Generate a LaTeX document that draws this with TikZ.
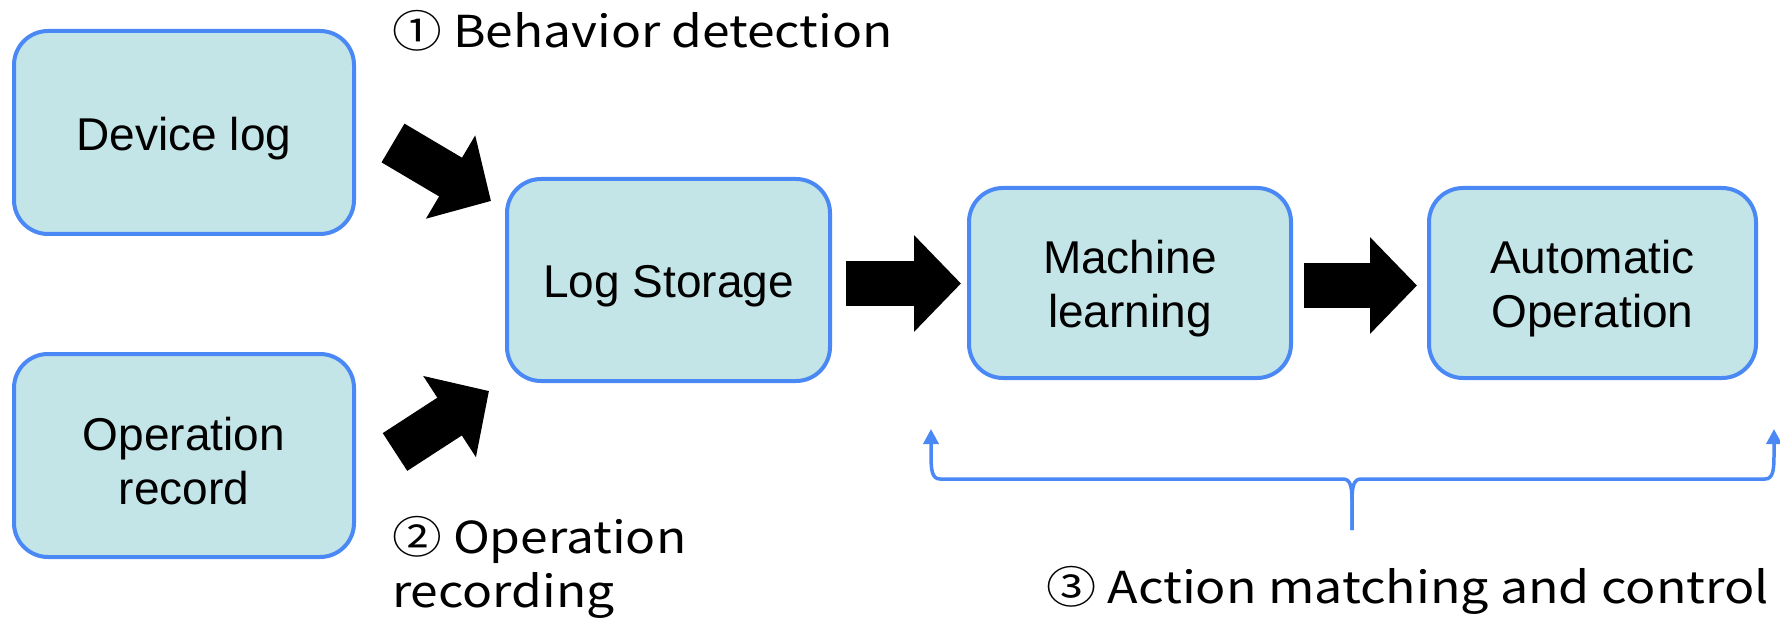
\documentclass[tikz,border=0pt]{standalone}
\usepackage{fontspec}
\usepackage{graphicx}
\setmainfont{Liberation Sans}
\newfontfamily\labelfont{Noto Sans CJK JP}
\usetikzlibrary{arrows.meta}
\definecolor{boxfill}{HTML}{C4E5E8}
\definecolor{boxline}{HTML}{4A88F5}
\newcommand{\boxtxt}{\fontsize{46}{54}\selectfont}
\newcommand{\lblfont}{\labelfont\fontsize{44}{56}\selectfont}
\tikzset{
  box/.style={draw=boxline, line width=4pt, fill=boxfill, rounded corners=34pt, inner sep=0pt},
  boxtext/.style={font=\boxtxt, align=center, yshift=-6pt},
  fat/.style={line width=45pt, -{Triangle[length=47pt,width=94pt]}},
  lbl/.style={anchor=north west, inner sep=0pt},
  brace/.style={draw=boxline, line width=3.5pt, {Triangle[length=15pt,width=15pt]}-}
}
\begin{document}
\begin{tikzpicture}[x=1pt,y=-1pt]
\useasboundingbox (0,0) rectangle (1780,620);
\node[box, minimum width=340pt, minimum height=203pt, label={[boxtext]center:Device log}] (dev) at (184,132.5) {};
\node[box, minimum width=340pt, minimum height=203pt, label={[boxtext]center:Operation\\record}] (op) at (184,455.5) {};
\node[box, minimum width=323pt, minimum height=202pt, label={[boxtext]center:Log Storage}] (store) at (668.5,280) {};
\node[box, minimum width=322pt, minimum height=190pt, label={[boxtext]center:Machine\\learning}] (ml) at (1130,283) {};
\node[box, minimum width=327pt, minimum height=190pt, label={[boxtext]center:Automatic\\Operation}] (auto) at (1592.5,283) {};

\coordinate (a1s) at (846,283.5); \coordinate (a1e) at (961,283.5);
\coordinate (a2s) at (1304,285.5); \coordinate (a2e) at (1417,285.5);
\coordinate (a3s) at (393,143); \coordinate (a3e) at (491,201);
\coordinate (a4s) at (395,452); \coordinate (a4e) at (489,391);
\draw[fat] (a1s) -- (a1e);
\draw[fat] (a2s) -- (a2e);
\draw[fat] (a3s) -- (a3e);
\draw[fat] (a4s) -- (a4e);

\coordinate (bl) at (931,429);
\coordinate (br) at (1774,429);
\coordinate (bm) at (1352,530);
\draw[brace] (bl) -- (931,455) .. controls (931,470) and (932,479) .. (940,479)
  -- (1343,479) .. controls (1350,479) and (1352,486) .. (1352,500) -- (bm);
\draw[brace] (br) -- (1774,455) .. controls (1774,470) and (1773,479) .. (1765,479)
  -- (1361,479) .. controls (1354,479) and (1352,486) .. (1352,500) -- (bm);

\node[lbl] (l1) at (392,10) {\scalebox{1.13}[1]{\lblfont ① Behavior detection}};
\node[lbl] (l2) at (392,514) {\scalebox{1.13}[1]{\lblfont\begin{tabular}{@{}l@{}}② Operation\\[-2pt]recording\end{tabular}}};
\node[lbl] (l3) at (1046,566) {\scalebox{1.14}[1]{\lblfont ③ Action matching and control}};
\end{tikzpicture}
\end{document}
